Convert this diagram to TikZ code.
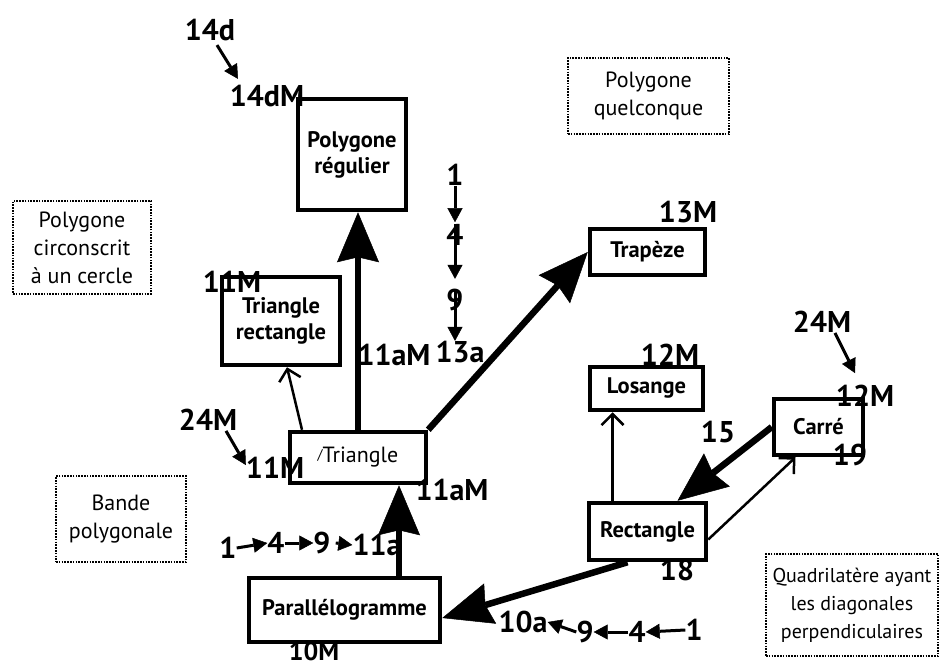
\documentclass[tikz,border=0pt]{standalone}
\usepackage{fontspec}
\setmainfont{PT Sans}
\usetikzlibrary{arrows.meta,calc}
\tikzset{
  box/.style={draw, line width=4.5pt, inner sep=0pt, align=center, font=\bfseries\fontsize{22.5}{26}\selectfont},
  dbox/.style={draw, line width=2pt, dash pattern=on 1.6pt off 1.2pt, inner sep=0pt, align=center, font=\fontsize{22}{28}\selectfont},
  lbl/.style={inner sep=0pt, font=\bfseries\fontsize{30}{30}\selectfont},
  bigarrow/.style={line width=6.5pt, -{Stealth[length=50pt,width=42pt,inset=5pt,line width=0.5pt]}},
  thinarrow/.style={line width=2.5pt, -{Straight Barb[length=11pt,width=22pt]}},
  smallarrow/.style={line width=3pt, -{Triangle[length=14pt,width=15pt,line width=0.5pt]}},
}
\begin{document}
\begin{tikzpicture}[x=1pt,y=-1pt]
\useasboundingbox (0,0) rectangle (943,669);

% labels
\node[lbl] (l14d) at (210,30) {14d};
\node[lbl] (l14dM) at (267,96) {14dM};
\node[lbl] (l11Mr) at (232,282) {11M};
\node[lbl] (l11aMv) at (394,355) {11aM};
\node[lbl] (v1) at (455,175) {1};
\node[lbl] (v4) at (455,235) {4};
\node[lbl] (v9) at (455,300) {9};
\node[lbl] (v13) at (460,352) {13a};
\node[lbl] (l13M) at (688,212) {13M};
\node[lbl] (l12Ml) at (670,355) {12M};
\node[lbl] (l24b) at (822,322) {24M};
\node[lbl] (l12Mc) at (865,396) {12M};
\node[lbl] (l19) at (850,455) {19};
\node[lbl] (l15) at (718,432) {15};
\node[lbl] (l24a) at (208,420) {24M};
\node[lbl] (l11Mt) at (275,468) {11M};
\node[lbl] (l11aMt) at (452,490) {11aM};
\node[lbl] (h1) at (228,548) {1};
\node[lbl] (h4) at (276,543) {4};
\node[lbl] (h9) at (322,543) {9};
\node[lbl] (h11a) at (377,545) {11a};
\node[lbl] (l18) at (677,570) {18};
\node[lbl, font=\bfseries\fontsize{26}{26}\selectfont] (l10M) at (314,651) {10M};
\node[lbl] (r10a) at (523,622) {10a};
\node[lbl] (r9) at (585,632) {9};
\node[lbl] (r4) at (637,632) {4};
\node[lbl] (r1) at (694,630) {1};

% boxes
\node[box, minimum width=108pt, minimum height=111pt] (reg) at (352,154.5) {Polygone\\régulier};
\node[box, minimum width=118pt, minimum height=88pt] (trirect) at (281,321) {Triangle\\rectangle};
\node[box, minimum width=136pt, minimum height=51pt, font=\fontsize{22}{25}\selectfont] (tri) at (358,457.5) {\raisebox{3pt}{\fontsize{14}{14}\selectfont /}Triangle};
\node[box, minimum width=115pt, minimum height=46pt] (trap) at (647.5,252) {Trapèze};
\node[box, minimum width=113pt, minimum height=43pt] (los) at (646.5,388.5) {Losange};
\node[box, minimum width=89pt, minimum height=56pt] (carre) at (818.5,427) {Carré};
\node[box, minimum width=117pt, minimum height=57pt] (rect) at (647.5,531.5) {Rectangle};
\node[box, minimum width=191pt, minimum height=64pt] (para) at (344.5,610) {Parallélogramme};

% dotted boxes
\node[dbox, minimum width=161pt, minimum height=76pt] (pq) at (648.5,96) {Polygone\\quelconque};
\node[dbox, minimum width=138pt, minimum height=93pt] (pc) at (82,247.5) {Polygone\\circonscrit\\à un cercle};
\node[dbox, minimum width=130pt, minimum height=86pt] (bp) at (121,519) {Bande\\polygonale};
\node[dbox, minimum width=172pt, minimum height=102pt, font=\fontsize{20}{28}\selectfont] (quad) at (852,605) {Quadrilatère ayant\\les diagonales\\perpendiculaires};

% main arrows
\draw[bigarrow] (tri.north) -- (tri.north |- reg.south);
\draw[bigarrow] (tri.north east) -- (trap.west);
\draw[bigarrow] ([xshift=54.5pt]para.north) -- ([xshift=41pt]tri.south);
\draw[bigarrow] ([xshift=-20pt]rect.south) -- ([yshift=-8pt]para.east);
\draw[bigarrow] (carre.west) -- ([xshift=30pt]rect.north);
\draw[thinarrow] ([xshift=-56pt]tri.north) -- ([xshift=6pt]trirect.south);
\draw[thinarrow] ([xshift=-35pt]rect.north) -- ([xshift=-34pt]los.south);
\draw[thinarrow] ([yshift=-8pt]rect.east) -- ([xshift=-23pt]carre.south);

% label arrows
\draw[smallarrow] ([xshift=7pt,yshift=-4pt]l14d.south) -- ([xshift=-29pt,yshift=6pt]l14dM.north);
\draw[smallarrow] ([xshift=18pt]l24a.south) -- ([yshift=3pt]l11Mt.west);
\draw[smallarrow] ([xshift=13pt]l24b.south) -- ([xshift=-10pt,yshift=12pt]l12Mc.north);

% vertical sequence
\draw[smallarrow] (v1.south) -- ([yshift=2pt]v4.north);
\draw[smallarrow] (v4.north) -- ([yshift=10pt]v9.north);
\draw[smallarrow] (v9.north) -- (v9.north |- v13.north);

% horizontal sequences
\draw[smallarrow] (h1.east) -- (h4.west);
\draw[smallarrow] (h4.east) -- (h9.west);
\draw[smallarrow] ([xshift=5pt]h9.east) -- (h11a.west);
\draw[smallarrow] (r9.west) -- (r10a.east);
\draw[smallarrow] (r4.west) -- (r9.east);
\draw[smallarrow] (r1.west) -- (r4.east);
\end{tikzpicture}
\end{document}
